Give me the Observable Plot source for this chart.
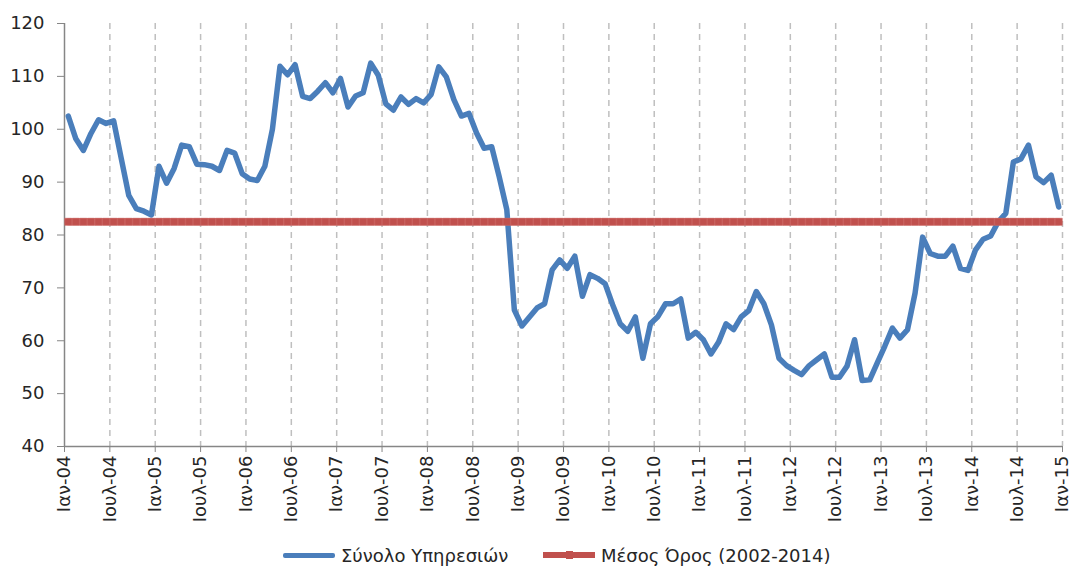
<!DOCTYPE html>
<html><head><meta charset="utf-8">
<script src="https://cdn.jsdelivr.net/npm/d3@7"></script>
<script src="https://cdn.jsdelivr.net/npm/@observablehq/plot@0.6"></script>
<style>
body{margin:0;background:#fff;font-family:"DejaVu Sans",sans-serif;width:1081px;overflow:hidden;}
#chart svg{display:block;}
#legend{position:relative;height:28px;font-size:18px;color:#262626;}
.item{position:absolute;top:0;height:28px;display:flex;align-items:center;white-space:nowrap;}
.sw{display:inline-block;width:52px;margin-right:6px;position:relative;}
</style></head><body>
<div id="chart"></div>
<div id="legend"></div>
<script>
const seriesName = "Σύνολο Υπηρεσιών";
const meanName = "Μέσος Όρος (2002-2014)";
// monthly values Jan-2004 .. Dec-2014
const services = [
  102.5, 98.2, 96.0, 99.2, 101.8, 101.1, 101.6, 94.5, 87.5, 85.0, 84.5, 83.8,
  93.0, 89.8, 92.6, 97.0, 96.7, 93.4, 93.3, 93.0, 92.2, 96.0, 95.5, 91.6,
  90.6, 90.3, 93.0, 100.0, 111.9, 110.3, 112.2, 106.2, 105.8, 107.2, 108.8, 106.9,
  109.6, 104.2, 106.3, 106.9, 112.5, 110.2, 104.8, 103.6, 106.1, 104.7, 105.8, 105.0,
  106.6, 111.8, 109.9, 105.6, 102.5, 103.0, 99.3, 96.4, 96.7, 91.0, 84.8, 65.8,
  62.8, 64.5, 66.2, 67.0, 73.4, 75.3, 73.7, 76.0, 68.4, 72.5, 71.8, 70.8,
  66.8, 63.2, 61.8, 64.5, 56.7, 63.2, 64.6, 67.0, 67.0, 67.9, 60.5, 61.6,
  60.2, 57.5, 59.7, 63.2, 62.1, 64.5, 65.7, 69.3, 67.0, 63.0, 56.7, 55.3,
  54.4, 53.6, 55.3, 56.4, 57.5, 53.1, 53.1, 55.2, 60.2, 52.5, 52.6, 55.8,
  59.0, 62.4, 60.5, 62.1, 69.0, 79.6, 76.5, 76.0, 76.0, 77.9, 73.7, 73.3,
  77.2, 79.2, 79.8, 82.5, 84.1, 93.8, 94.4, 97.0, 91.0, 89.9, 91.3, 85.3
];
const meanValue = 82.5;
const yTicks = [40, 50, 60, 70, 80, 90, 100, 110, 120];
const tickMonths = [0, 6, 12, 18, 24, 30, 36, 42, 48, 54, 60, 66, 72, 78, 84, 90, 96, 102, 108, 114, 120, 126, 132];
const tickLabels = ["Ιαν-04","Ιουλ-04","Ιαν-05","Ιουλ-05","Ιαν-06","Ιουλ-06","Ιαν-07","Ιουλ-07","Ιαν-08","Ιουλ-08","Ιαν-09","Ιουλ-09","Ιαν-10","Ιουλ-10","Ιαν-11","Ιουλ-11","Ιαν-12","Ιουλ-12","Ιαν-13","Ιουλ-13","Ιαν-14","Ιουλ-14","Ιαν-15"];

const points = services.map((v, i) => ({m: i + 0.5, v}));
const meanPoints = services.map((v, i) => ({m: i + 0.5, v: meanValue}));

const chart = Plot.plot({
  width: 1081, height: 541,
  marginLeft: 64, marginRight: 19, marginTop: 23, marginBottom: 95,
  style: {fontFamily: "DejaVu Sans", fontSize: "18px", background: "#fff", color: "#262626"},
  x: {domain: [0, 132]},
  y: {domain: [40, 120]},
  marks: [
    Plot.ruleX(tickMonths.slice(1), {stroke: "#bfbfbf", strokeWidth: 1.5, strokeDasharray: "6,5"}),
    Plot.axisY({ticks: yTicks, tickSize: 7, tickPadding: 13, stroke: "#868686", fill: "#262626", label: null}),
    Plot.axisX({ticks: tickMonths, tickFormat: d => tickLabels[tickMonths.indexOf(d)], tickSize: 6, tickRotate: -90, tickPadding: 3, stroke: "#868686", fill: "#262626", label: null}),
    Plot.ruleX([0], {stroke: "#868686", strokeWidth: 1.5}),
    Plot.ruleY([40], {stroke: "#868686", strokeWidth: 1.5}),
    Plot.lineY(points, {x: "m", y: "v", stroke: "#4a7ebb", strokeWidth: 5.5, strokeLinejoin: "round"}),
    Plot.lineY(meanPoints, {x: "m", y: "v", stroke: "#c0504d", strokeWidth: 7}),
    Plot.dot(meanPoints, {x: "m", y: "v", symbol: "square", r: 4, fill: "#c0504d", stroke: "#cd6a67", strokeWidth: 0.6})
  ]
});
document.getElementById("chart").appendChild(chart);

const legend = document.getElementById("legend");
legend.innerHTML =
  `<div class="item" style="left:283px"><span class="sw" style="height:5px;background:#4a7ebb;border-radius:2px"></span><span>${seriesName}</span></div>` +
  `<div class="item" style="left:543px"><span class="sw" style="height:6px;background:#c0504d"><span style="position:absolute;left:23px;top:-1px;width:7px;height:8px;background:#c0504d"></span></span><span>${meanName}</span></div>`;
</script>
</body></html>
